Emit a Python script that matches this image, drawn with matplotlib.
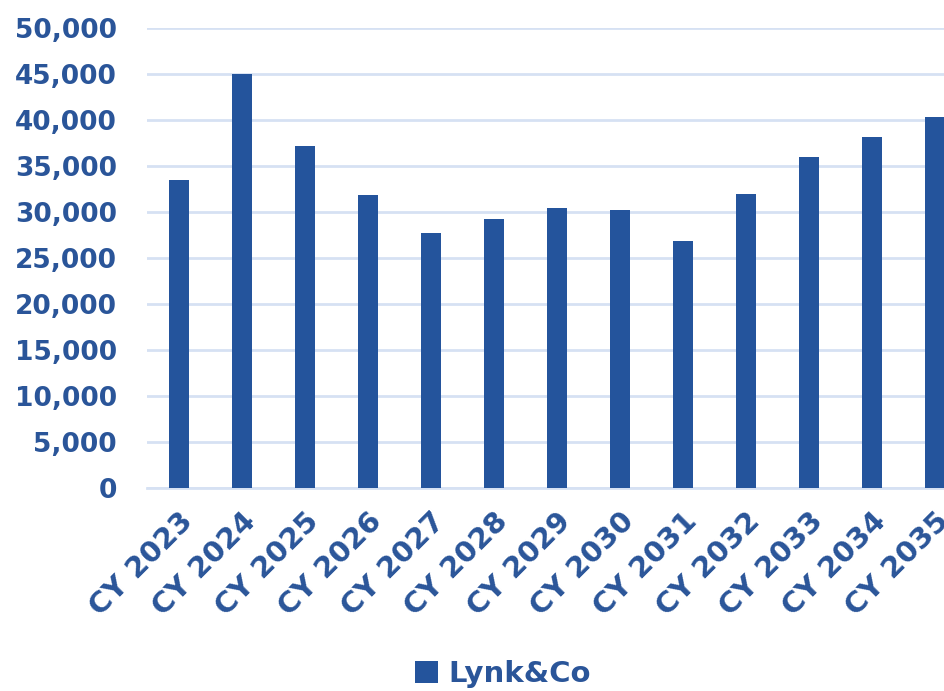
import matplotlib
matplotlib.use('Agg')
import matplotlib.pyplot as plt
from matplotlib.ticker import FuncFormatter

years = ['CY 2023', 'CY 2024', 'CY 2025', 'CY 2026', 'CY 2027', 'CY 2028', 'CY 2029',
         'CY 2030', 'CY 2031', 'CY 2032', 'CY 2033', 'CY 2034', 'CY 2035']
lynk_co = [33500, 45000, 37200, 31800, 27700, 29200, 30400,
           30200, 26800, 32000, 36000, 38200, 40300]

bar_color = '#24549C'
text_color = '#2A5599'
grid_color = '#D6E1F3'

plt.rcParams['font.family'] = ['DejaVu Sans']
plt.rcParams['font.weight'] = 'bold'

fig = plt.figure(figsize=(9.45, 6.91), dpi=100)
W, H = 945, 691
# plot area runs past the right edge, as in the reference
ax = fig.add_axes([147.5 / W, 1 - 488 / H, 819 / W, 460 / H])

x = range(len(years))
ax.bar(x, lynk_co, width=20 / 63, color=bar_color, label='Lynk&Co', zorder=3)

ax.set_xlim(-0.5, len(years) - 0.5)
ax.set_ylim(0, 50000)
ax.set_yticks(range(0, 50001, 5000))
ax.yaxis.set_major_formatter(FuncFormatter(lambda v, p: f'{int(v):,}'))
ax.grid(axis='y', color=grid_color, linewidth=2, zorder=0)

for s in ['top', 'right', 'left']:
    ax.spines[s].set_visible(False)
ax.spines['bottom'].set_color(grid_color)
ax.spines['bottom'].set_linewidth(2)

ax.tick_params(axis='y', length=0, labelcolor=text_color, labelsize=19, pad=22)
ax.set_xticks(list(x))
ax.set_xticklabels(years, rotation=45, ha='right', rotation_mode='anchor')
ax.tick_params(axis='x', length=0, labelcolor=text_color, labelsize=21, pad=14)

leg = fig.legend(loc='center', bbox_to_anchor=(503 / W, 1 - 674 / H), frameon=False,
                 fontsize=21, handlelength=0.8, handleheight=0.8, handletextpad=0.35)
for t in leg.get_texts():
    t.set_color(text_color)

fig.savefig('out.png', dpi=100)
